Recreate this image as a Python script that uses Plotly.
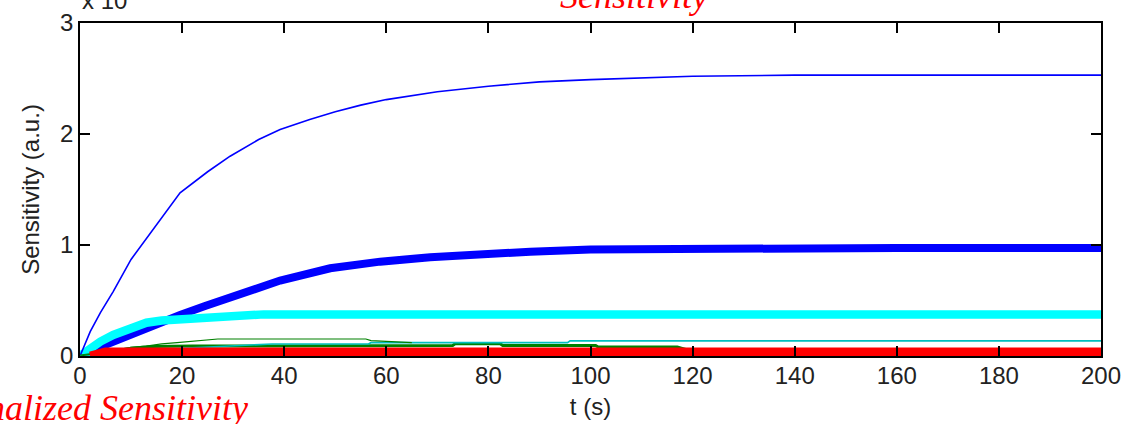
import plotly.graph_objects as go

# ---- data (y in units of the "x 10^n" factor) ----
t_thin_blue = [0, 2, 4, 6.5, 10, 14.7, 19.6, 25, 29.4, 35, 39.2, 45, 50, 55, 60, 70, 80, 90, 100, 120, 140, 160, 180, 200]
y_thin_blue = [0, 0.22, 0.39, 0.58, 0.87, 1.16, 1.47, 1.66, 1.80, 1.95, 2.04, 2.13, 2.20, 2.26, 2.31, 2.38, 2.43, 2.47, 2.49, 2.52, 2.53, 2.53, 2.53, 2.53]

t_thick_blue = [0, 2, 3.9, 6.5, 9.8, 14.7, 19.6, 24.5, 29.4, 34.3, 39.2, 49, 58.8, 68.6, 78.4, 88.2, 100, 120, 140, 160, 180, 200]
y_thick_blue = [0, 0.03, 0.08, 0.13, 0.18, 0.27, 0.37, 0.45, 0.53, 0.61, 0.68, 0.79, 0.85, 0.89, 0.92, 0.94, 0.96, 0.97, 0.973, 0.973, 0.973, 0.973]

t_cyan = [0, 2, 4, 6.5, 10, 13, 16, 20, 26, 35, 36, 60, 100, 140, 200]
y_cyan = [0, 0.07, 0.13, 0.19, 0.26, 0.30, 0.32, 0.33, 0.35, 0.36, 0.375, 0.375, 0.375, 0.375, 0.375]

t_green_thick = [0, 5, 10, 14, 22, 40, 73, 73.5, 82.3, 82.8, 101, 101.5, 117, 120, 200]
y_green_thick = [0, 0.03, 0.07, 0.085, 0.09, 0.092, 0.095, 0.11, 0.11, 0.095, 0.095, 0.08, 0.08, 0.04, 0.04]

t_teal = [0, 10, 20, 30, 37.6, 56.5, 57, 95.5, 96, 140, 200]
y_teal = [0, 0.04, 0.07, 0.095, 0.108, 0.108, 0.12, 0.12, 0.137, 0.137, 0.137]

t_green_thin = [0, 5, 10, 13, 16, 19, 23, 27, 56, 57, 65]
y_green_thin = [0, 0.04, 0.078, 0.09, 0.11, 0.12, 0.138, 0.153, 0.153, 0.138, 0.12]

t_red = [2, 3, 5, 50, 100, 150, 200]
y_red = [0, 0.015, 0.036, 0.036, 0.036, 0.036, 0.036]

x_ticks = [0, 20, 40, 60, 80, 100, 120, 140, 160, 180, 200]
y_ticks = [0, 1, 2, 3]

fig = go.Figure()

def add(t, y, color, width):
    fig.add_trace(go.Scatter(x=t, y=y, mode="lines", line=dict(color=color, width=width),
                             showlegend=False, hoverinfo="skip"))

add(t_thick_blue, y_thick_blue, "#0000FF", 8)
add(t_cyan, y_cyan, "#00FFFF", 8.5)
add(t_thin_blue, y_thin_blue, "#0000FF", 1.6)
add(t_green_thick, y_green_thick, "#008000", 3)
add(t_teal, y_teal, "#00BFBF", 1.7)
add(t_green_thin, y_green_thin, "#008000", 1.2)
add(t_red, y_red, "#FF0000", 9)

tick_font = dict(family="Liberation Sans, Arial, sans-serif", size=24, color="#222222")
serif_red = dict(family="Liberation Serif, Times New Roman, serif", size=36, color="#FF0000")

fig.update_layout(
    width=1122, height=424,
    margin=dict(l=80, r=21, t=23, b=68),
    paper_bgcolor="white", plot_bgcolor="white",
    xaxis=dict(range=[0, 200], tickvals=x_ticks, ticktext=[str(v) for v in x_ticks],
               ticks="inside", ticklen=10, tickwidth=1.5, tickcolor="black",
               showline=True, linecolor="black", linewidth=1.5, mirror="ticks",
               showgrid=False, zeroline=False, tickfont=tick_font, ticklabelstandoff=-3,
               automargin=False,
               title=dict(text="t (s)", font=tick_font, standoff=11)),
    yaxis=dict(range=[0, 3], tickvals=y_ticks, ticktext=[str(v) for v in y_ticks],
               ticks="inside", ticklen=10, tickwidth=1.5, tickcolor="black",
               showline=True, linecolor="black", linewidth=1.5, mirror="ticks",
               showgrid=False, zeroline=False, tickfont=tick_font, ticklabelstandoff=0,
               automargin=False,
               title=dict(text="Sensitivity (a.u.)", font=tick_font, standoff=14)),
)

fig.add_annotation(text="x 10", xref="paper", yref="paper", x=0, y=1.03 - 3 / 333,
                   xanchor="left", yanchor="bottom", showarrow=False, font=tick_font)
fig.add_annotation(text="<i>Sensitivity</i>", xref="paper", yref="paper", x=0.543, y=1.03 - 5 / 333,
                   xanchor="center", yanchor="bottom", showarrow=False, font=serif_red)
fig.add_annotation(text="<i>Normalized Sensitivity</i>", xref="paper", yref="paper",
                   x=(250 - 80) / 1021, y=(356 - 408) / 333,
                   xanchor="right", yanchor="middle", showarrow=False, font=serif_red)

fig.write_html("out.html", config={"displayModeBar": False},
               post_script="document.body.style.margin='0px';")
